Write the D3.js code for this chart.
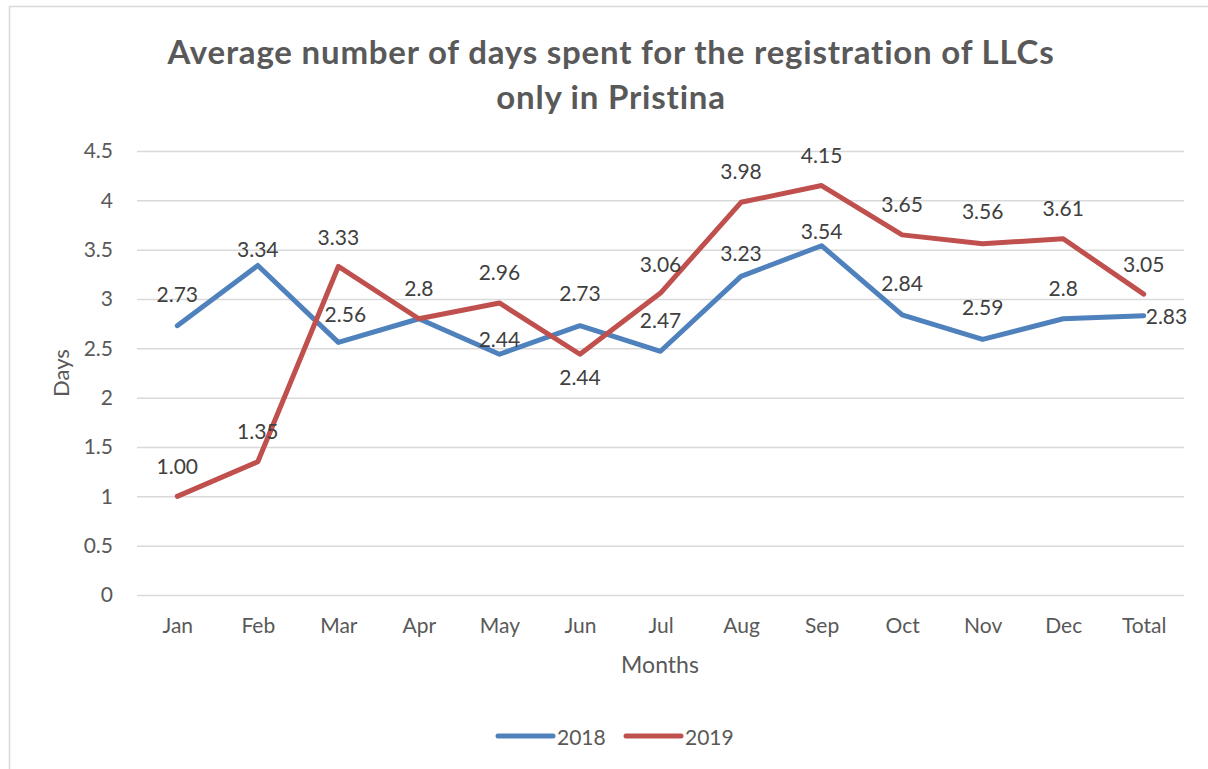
<!DOCTYPE html>
<html>
<head>
<meta charset="utf-8">
<script src="https://cdn.jsdelivr.net/npm/d3@7"></script>
<style>
  html, body { margin: 0; padding: 0; background: #fff; }
  svg { display: block; }
  text { font-family: Lato, "Open Sans", sans-serif; }
</style>
</head>
<body>
<svg id="chart" width="1208" height="769"></svg>
<script>
// ---- data ----
const categories = ["Jan","Feb","Mar","Apr","May","Jun","Jul","Aug","Sep","Oct","Nov","Dec","Total"];
const values2018 = [2.73, 3.34, 2.56, 2.8, 2.44, 2.73, 2.47, 3.23, 3.54, 2.84, 2.59, 2.8, 2.83];
const values2019 = [1.00, 1.35, 3.33, 2.8, 2.96, 2.44, 3.06, 3.98, 4.15, 3.65, 3.56, 3.61, 3.05];
const labels2018 = ["2.73","3.34","2.56","2.8","2.44","2.73","2.47","3.23","3.54","2.84","2.59","2.8","2.83"];
const labels2019 = ["1.00","1.35","3.33","2.8","2.96","2.44","3.06","3.98","4.15","3.65","3.56","3.61","3.05"];
const yTicks = [0, 0.5, 1, 1.5, 2, 2.5, 3, 3.5, 4, 4.5];
const seriesNames = ["2018", "2019"];

// ---- layout (label offsets relative to point, px) ----
const labelLayout2018 = [[0,-32],[0,-17],[7,-29],[0,-31],[0,-16],[0,-33],[0,-32],[0,-24],[0,-15],[0,-32],[0,-33],[0,-31],["r",0]];
const labelLayout2019 = [[0,-31],[0,-31],[0,-30],null,[0,-31],[0,22],[0,-30],[0,-32],[0,-31],[0,-31],[0,-33],[0,-31],[0,-31]];

const colors = ["#4F81BD", "#C0504D"];
const svg = d3.select("#chart");

// border
svg.append("rect").attr("x", 9.5).attr("y", 6.5).attr("width", 1220).attr("height", 800)
  .attr("fill", "#fff").attr("stroke", "#D9D9D9").attr("stroke-width", 1.5);

const plotLeft = 137, plotRight = 1184, plotTop = 151, plotBottom = 595;
const x = d3.scalePoint().domain(categories).range([plotLeft, plotRight]).padding(0.5);
const y = d3.scaleLinear().domain([0, 4.5]).range([plotBottom, plotTop]);

// title
const title = svg.append("text").attr("text-anchor", "middle")
  .attr("fill", "#595959").attr("font-weight", "bold").attr("font-size", 33)
  .attr("letter-spacing", 0.8);
title.append("tspan").attr("x", 611).attr("y", 64).text("Average number of days spent for the registration of LLCs");
title.append("tspan").attr("x", 611).attr("y", 109).text("only in Pristina");

// gridlines + y axis
const yAxis = d3.axisLeft(y).tickValues(yTicks).tickSize(-(plotRight - plotLeft)).tickPadding(24)
  .tickFormat(d => d3.format("")(d));
const gy = svg.append("g").attr("transform", `translate(${plotLeft},0)`).call(yAxis);
gy.select(".domain").remove();
gy.selectAll(".tick line").attr("stroke", "#D9D9D9").attr("stroke-width", 1.5);
gy.selectAll(".tick text").attr("fill", "#595959").attr("font-size", 21)
  .attr("font-family", "Lato, 'Open Sans', sans-serif");

// x axis
const xAxis = d3.axisBottom(x).tickSize(0).tickPadding(23);
const gx = svg.append("g").attr("transform", `translate(0,${plotBottom})`).call(xAxis);
gx.select(".domain").remove();
gx.selectAll(".tick text").attr("fill", "#595959").attr("font-size", 21)
  .attr("font-family", "Lato, 'Open Sans', sans-serif");

// axis titles
svg.append("text").attr("x", 660).attr("y", 673).attr("text-anchor", "middle")
  .attr("fill", "#595959").attr("font-size", 23).text("Months");
svg.append("text").attr("transform", "translate(69,373) rotate(-90)").attr("text-anchor", "middle")
  .attr("fill", "#595959").attr("font-size", 22).text("Days");

// lines
const line = d3.line().x((d, i) => x(categories[i])).y(d => y(d));
[values2018, values2019].forEach((vals, si) => {
  svg.append("path").datum(vals).attr("d", line).attr("fill", "none")
    .attr("stroke", colors[si]).attr("stroke-width", 5)
    .attr("stroke-linejoin", "round").attr("stroke-linecap", "round");
});

// data labels
function drawLabels(vals, labels, layout) {
  vals.forEach((v, i) => {
    const L = layout[i];
    if (!L) return;
    const px = x(categories[i]), py = y(v);
    const t = svg.append("text").attr("fill", "#404040").attr("font-size", 21)
      .attr("dominant-baseline", "central").text(labels[i]);
    if (L[0] === "r") {
      t.attr("x", px + 2).attr("y", py + L[1]).attr("text-anchor", "start");
    } else {
      t.attr("x", px + L[0]).attr("y", py + L[1]).attr("text-anchor", "middle");
    }
  });
}
drawLabels(values2018, labels2018, labelLayout2018);
drawLabels(values2019, labels2019, labelLayout2019);

// legend
const legendX = [498, 626];
seriesNames.forEach((name, i) => {
  const g = svg.append("g");
  g.append("line").attr("x1", legendX[i]).attr("x2", legendX[i] + 55)
    .attr("y1", 736).attr("y2", 736).attr("stroke", colors[i]).attr("stroke-width", 5)
    .attr("stroke-linecap", "round");
  g.append("text").attr("x", legendX[i] + 59).attr("y", 736).attr("dominant-baseline", "central")
    .attr("fill", "#595959").attr("font-size", 21).text(name);
});
</script>
</body>
</html>
